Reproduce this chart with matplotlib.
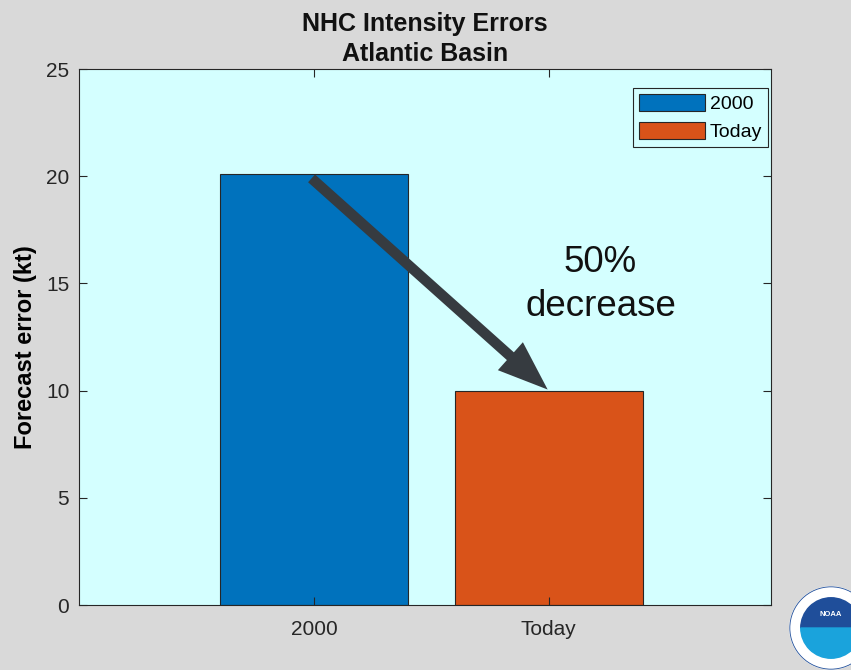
import numpy as np
import matplotlib.pyplot as plt
from matplotlib.patches import Circle, Wedge, FancyArrowPatch, ArrowStyle

plt.rcParams['font.family'] = ['Liberation Sans', 'DejaVu Sans']

# данные
categories = ['2000', 'Today']
errors = [20.1, 10.0]
bar_colors = ['#0072bd', '#d95319']
y_ticks = [0, 5, 10, 15, 20, 25]

fig = plt.figure(figsize=(8.51, 6.70), dpi=100)
fig.patch.set_facecolor('#d9d9d9')
ax = fig.add_axes([0.0928, 0.097, 0.813, 0.800])
ax.set_facecolor('#d4ffff')

x = np.arange(1, len(categories) + 1)
for xi, val, col, lab in zip(x, errors, bar_colors, categories):
    ax.bar(xi, val, width=0.8, color=col, edgecolor='#262626', linewidth=0.8, label=lab)

ax.set_xlim(0, 2.945)
ax.set_ylim(0, 25)
ax.set_xticks(x)
ax.set_xticklabels(categories)
ax.set_yticks(y_ticks)
ax.tick_params(direction='in', top=True, right=True, labelsize=15, colors='#262626',
               length=6, width=0.8)
ax.tick_params(axis='x', pad=11)
ax.tick_params(axis='y', pad=7)
for s in ax.spines.values():
    s.set_color('#262626')
    s.set_linewidth(0.8)

ax.set_title('NHC Intensity Errors\nAtlantic Basin', fontsize=18, fontweight='bold',
             color='#111111', pad=6, linespacing=1.3)
ax.set_ylabel('Forecast error (kt)', fontsize=17, fontweight='bold')
ax.yaxis.set_label_coords(-0.061, 0.481)

# стрелка от одного столбца к другому
arrow = FancyArrowPatch((x[0] - 0.01, errors[0] - 0.2), (x[1] - 0.005, errors[1] + 0.05),
                        arrowstyle=ArrowStyle.Simple(head_length=36, head_width=27, tail_width=7.5),
                        color='#363b40', lw=0, shrinkA=0, shrinkB=0, zorder=5)
ax.add_patch(arrow)
ax.text(2.22, 14.95, '50%\ndecrease', fontsize=26.5, ha='center', va='center',
        linespacing=1.33, color='#111111')

leg = ax.legend(loc='upper right', bbox_to_anchor=(0.9957, 0.9646), fontsize=14,
                frameon=True, fancybox=False, handlelength=3.4, handleheight=1.0,
                borderpad=0.3, labelspacing=0.45, handletextpad=0.25, borderaxespad=0)
leg.get_frame().set_facecolor('#d4ffff')
leg.get_frame().set_edgecolor('#262626')
leg.get_frame().set_linewidth(0.8)
leg.get_frame().set_alpha(1)

# упрощённый логотип NOAA
lax = fig.add_axes([(831 - 42) / 851, (670 - 628 - 42) / 670, 84 / 851, 84 / 670])
lax.set_xlim(-1, 1)
lax.set_ylim(-1, 1)
lax.axis('off')
lax.add_patch(Circle((0, 0), 0.98, color='white'))
lax.add_patch(Circle((0, 0), 0.98, fill=False, ec='#1f4e9a', lw=0.6))
lax.add_patch(Wedge((0, 0), 0.72, 0, 180, color='#1f4e9a'))
lax.add_patch(Wedge((0, 0), 0.72, 180, 360, color='#1aa3dc'))
lax.text(0, 0.32, 'NOAA', color='white', fontsize=5.5, fontweight='bold', ha='center', va='center')

fig.savefig('out.png', dpi=100, facecolor=fig.get_facecolor())
